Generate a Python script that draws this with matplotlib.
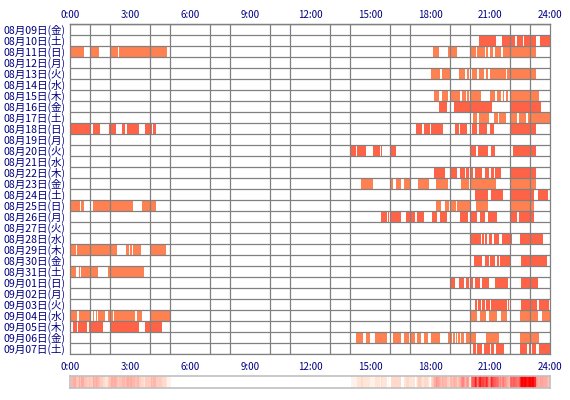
import matplotlib
matplotlib.use('Agg')
import matplotlib.pyplot as plt
import numpy as np
from matplotlib.colors import LinearSegmentedColormap

plt.rcParams['font.family'] = ['Noto Sans CJK JP', 'DejaVu Sans']

day_labels = [
    '08月09日(金)', '08月10日(土)', '08月11日(日)', '08月12日(月)', '08月13日(火)',
    '08月14日(水)', '08月15日(木)', '08月16日(金)', '08月17日(土)', '08月18日(日)',
    '08月19日(月)', '08月20日(火)', '08月21日(水)', '08月22日(木)', '08月23日(金)',
    '08月24日(土)', '08月25日(日)', '08月26日(月)', '08月27日(火)', '08月28日(水)',
    '08月29日(木)', '08月30日(金)', '08月31日(土)', '09月01日(日)', '09月02日(月)',
    '09月03日(火)', '09月04日(水)', '09月05日(木)', '09月06日(金)', '09月07日(土)',
]

hour_ticks = [0, 3, 6, 9, 12, 15, 18, 21, 24]
hour_tick_labels = ['0:00', '3:00', '6:00', '9:00', '12:00', '15:00', '18:00', '21:00', '24:00']

# 'c' = light (coral) rows, 't' = dark (tomato) rows
row_color_keys = ['', 't', 'c', '', 'c', '', 'c', 't', 'c', 't',
                  '', 't', '', 't', 'c', 't', 'c', 't', '', 't',
                  'c', 't', 'c', 't', '', 't', 'c', 't', 'c', 't']

# active periods (start hour, end hour) per day
segments = [
    [],
    [(20.45, 21.28), (21.6, 22.25), (22.33, 22.63), (22.7, 23.28), (23.5, 24.0)],
    [(0.04, 0.68), (1.03, 1.45), (2.03, 2.38), (2.45, 4.83), (18.17, 18.45), (18.9, 19.35),
     (20.05, 20.3), (20.37, 20.75), (20.82, 20.88), (21.02, 21.17), (21.23, 21.55), (21.65, 23.28)],
    [],
    [(18.03, 18.5), (18.6, 19.0), (19.45, 19.75), (19.85, 19.93), (20.08, 20.37), (20.45, 20.7),
     (20.8, 20.88), (21.02, 21.78), (21.83, 23.3)],
    [],
    [(18.2, 18.45), (18.6, 18.9), (19.02, 19.5), (19.6, 19.8), (19.87, 19.93), (20.03, 20.55),
     (21.02, 21.27), (21.37, 21.53), (21.63, 21.72), (21.82, 21.88), (22.0, 23.45)],
    [(18.45, 18.83), (19.2, 21.12), (22.03, 23.53)],
    [(20.15, 20.37), (20.43, 20.97), (21.22, 21.42), (21.47, 21.8), (22.03, 22.37), (22.43, 22.78),
     (22.88, 24.0)],
    [(0.04, 1.03), (1.13, 1.48), (1.93, 2.28), (2.61, 2.73), (2.84, 3.43), (3.76, 4.08), (4.15, 4.29),
     (17.3, 17.6), (17.7, 18.0), (18.05, 18.65), (19.25, 19.45), (19.52, 19.85), (20.1, 20.37),
     (20.43, 20.83), (21.02, 21.18), (22.0, 23.28)],
    [],
    [(14.03, 14.3), (14.35, 14.8), (15.15, 15.48), (15.57, 15.62), (16.03, 16.28), (20.05, 20.32),
     (20.38, 20.88), (21.05, 21.27), (22.0, 22.07), (22.13, 23.3)],
    [],
    [(18.2, 18.73), (19.02, 19.35), (19.48, 19.73), (19.82, 19.95), (20.05, 20.15), (20.27, 20.58),
     (20.75, 20.93), (21.05, 21.2), (21.25, 21.55), (22.0, 23.28)],
    [(14.55, 15.13), (16.03, 16.13), (16.3, 16.57), (16.7, 17.07), (17.4, 17.95), (18.3, 18.9),
     (19.55, 19.95), (20.03, 21.28), (22.0, 23.28)],
    [(20.25, 20.9), (21.03, 21.63), (22.0, 23.2), (23.4, 23.9)],
    [(0.04, 0.5), (0.55, 0.69), (1.15, 3.14), (3.61, 4.29), (18.3, 18.55), (18.75, 18.95),
     (19.02, 19.3), (19.35, 20.0), (20.3, 20.88), (22.0, 23.2)],
    [(15.55, 15.83), (15.88, 15.97), (16.03, 16.53), (16.8, 17.03), (17.07, 17.23), (17.35, 17.68),
     (18.1, 18.35), (18.5, 18.83), (19.5, 19.88), (20.03, 20.35), (20.5, 20.75), (20.9, 21.35),
     (22.0, 22.35), (22.43, 23.2)],
    [],
    [(20.03, 20.53), (20.6, 20.68), (20.77, 20.87), (20.97, 21.08), (21.18, 21.47), (21.6, 22.1),
     (22.5, 23.63)],
    [(0.04, 0.3), (0.37, 2.33), (2.81, 2.95), (3.02, 3.1), (3.15, 3.53), (4.05, 4.79)],
    [(20.2, 20.58), (20.73, 20.95), (21.02, 21.27), (21.33, 21.45), (21.5, 22.0), (22.55, 23.83)],
    [(0.04, 0.3), (0.45, 0.5), (0.55, 1.38), (1.88, 3.68)],
    [(19.0, 19.27), (19.45, 19.72), (19.8, 19.93), (20.05, 20.13), (20.27, 20.52), (20.6, 20.97),
     (21.27, 21.9), (22.55, 23.38)],
    [],
    [(20.25, 20.33), (20.4, 20.53), (20.6, 20.75), (20.8, 21.0), (21.05, 21.83), (21.9, 21.95),
     (22.55, 23.33), (23.47, 23.95)],
    [(0.04, 0.36), (0.43, 1.02), (1.13, 1.21), (1.28, 1.35), (1.41, 1.76), (1.9, 2.15), (2.22, 3.25),
     (3.33, 3.59), (4.05, 5.05), (20.03, 20.33), (20.5, 20.78), (20.95, 21.37), (21.55, 21.85),
     (22.5, 23.4), (23.6, 24.0)],
    [(0.14, 0.34), (0.42, 0.86), (0.97, 1.65), (2.03, 3.44), (3.77, 4.6)],
    [(14.3, 14.63), (14.8, 15.0), (15.25, 15.85), (16.15, 16.55), (16.7, 16.95), (17.07, 17.25),
     (17.35, 17.55), (17.7, 17.9), (18.05, 18.5), (18.92, 19.08), (19.15, 19.25), (19.3, 19.37),
     (19.42, 19.5), (19.55, 19.7), (19.8, 20.0), (20.05, 20.28), (20.8, 21.43), (22.5, 23.45)],
    [(20.15, 20.3), (20.35, 20.58), (20.7, 21.0), (21.05, 21.2), (21.28, 21.7), (22.5, 22.85),
     (22.93, 23.03), (23.08, 23.32), (23.43, 24.0)],
]

palette = {'c': '#FF8050', 't': '#FF6347'}
grid_color = '#808080'
label_color = '#000080'

W, H = 570, 400
fig = plt.figure(figsize=(W / 100, H / 100), dpi=100)
fig.patch.set_facecolor('white')

ax = fig.add_axes([70 / W, 46 / H, 480 / W, 330 / H])
n = len(day_labels)
for i, (segs, key) in enumerate(zip(segments, row_color_keys)):
    if segs:
        ax.broken_barh([(s, e - s) for s, e in segs], (i, 1),
                       facecolors=palette[key], edgecolor='none', zorder=1)

ax.set_xlim(0, 24)
ax.set_ylim(n, 0)
ax.set_xticks(hour_ticks)
ax.set_xticklabels(hour_tick_labels)
ax.set_xticks(np.arange(25), minor=True)
ax.set_yticks(np.arange(n) + 0.5)
ax.set_yticklabels(day_labels)
ax.set_yticks(np.arange(n + 1), minor=True)
ax.tick_params(which='both', length=0)
ax.tick_params(axis='x', labelsize=7, labelcolor=label_color, pad=6)
ax.tick_params(axis='y', labelsize=7.6, labelcolor=label_color, pad=3)
ax.grid(which='minor', color=grid_color, linewidth=0.9)
ax.grid(which='major', visible=False)
ax.set_axisbelow(False)
for sp in ax.spines.values():
    sp.set_color(grid_color)
    sp.set_linewidth(0.9)

top = ax.secondary_xaxis('top')
top.set_xticks(hour_ticks)
top.set_xticklabels(hour_tick_labels)
top.tick_params(length=0, labelsize=7, labelcolor=label_color, pad=3)
top.spines['top'].set_color(grid_color)
top.spines['top'].set_linewidth(0.9)

# density strip
bins = 480
centers = (np.arange(bins) + 0.5) * 24 / bins
coverage = np.zeros(bins)
for segs in segments:
    covered = np.zeros(bins, dtype=bool)
    for s, e in segs:
        covered |= (centers >= s) & (centers < e)
    coverage += covered

cmap = LinearSegmentedColormap.from_list(
    'dens', [(0.0, '#FFFFFF'), (0.12, '#FFE0D0'), (0.4, '#FFA098'), (1.0, '#FF0000')])
gax = fig.add_axes([70 / W, 12 / H, 480 / W, 12 / H])
gax.imshow(coverage[None, :], aspect='auto', cmap=cmap, extent=(0, 24, 0, 1),
           vmin=0, vmax=coverage.max(), interpolation='nearest')
gax.set_xticks([])
gax.set_yticks([])
for sp in gax.spines.values():
    sp.set_color('#C0C0C0')
    sp.set_linewidth(1.2)

fig.savefig('out.png', dpi=100)
